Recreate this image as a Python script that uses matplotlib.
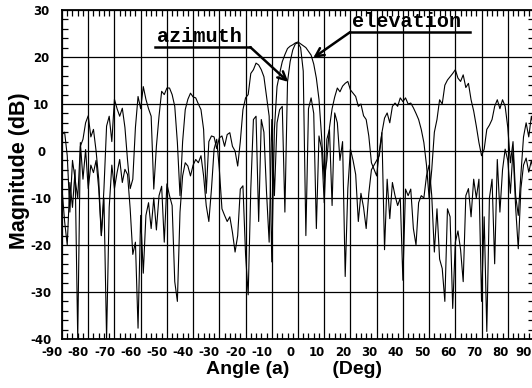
"""
Antenna pattern: azimuth and elevation cuts, magnitude (dB) against angle
"""
import numpy as np
import matplotlib.pyplot as plt
import matplotlib.transforms as mtransforms

# angles, one reading per degree
angle = np.arange(-90, 91)

# elevation cut (broad main beam)
elevation = [
    3.5, 4.0, -1.0, -13.0, -2.0, -6.0, -10.0, 1.0, 2.5, 6.0,          # -90..-81
    7.5, 3.0, 4.6, 0.0, -6.0, -18.0, -8.0, 5.3, 7.4, 2.0,             # -80..-71
    11.0, 9.0, 7.4, 9.1, 5.0, -2.0, -8.0, -6.0, 5.0, 11.6,            # -70..-61
    9.0, 13.7, 11.0, 9.0, 7.4, -8.1, 1.0, 7.4, 12.7, 12.0,            # -60..-51
    13.4, 13.4, 12.0, 9.5, 1.8, -9.5, 2.0, 8.8, 11.0, 12.3,           # -50..-41
    11.5, 11.3, 10.0, 8.8, 4.6, -9.0, 2.0, 3.2, 3.0, 0.5,             # -40..-31
    2.8, 3.2, 1.0, 3.5, 3.9, 1.0, 0.0, -3.2, 2.0, 8.8,                # -30..-21
    11.3, 12.0, 16.5, 17.3, 18.7, 18.3, 17.3, 15.8, 11.6, 7.4,        # -20..-11
    -23.6, 4.6, 13.7, 16.5, 19.0, 20.5, 21.8, 22.3, 22.6, 23.0,       # -10..-1
    23.2, 22.8, 22.4, 22.0, 21.2, 20.4, 18.5, 15.5, 11.0, 3.0,        # 0..9
    -6.0, -2.0, 5.0, 9.0, 11.5, 13.4, 12.6, 13.8, 14.4, 14.8,         # 10..19
    13.0, 12.3, 11.6, 9.5, 10.0, 7.5, 6.7, 3.2, -2.5, -3.9,           # 20..29
    -5.3, 0.0, 3.9, 7.0, 8.1, 6.0, 9.5, 10.2, 9.5, 11.3,              # 30..39
    10.5, 11.3, 10.0, 10.2, 9.2, 8.0, 6.7, 4.6, 1.8, -3.0,            # 40..49
    -10.0, -4.0, 4.0, 6.7, 10.9, 10.0, 14.0, 15.1, 15.8, 16.5,        # 50..59
    17.3, 15.5, 14.8, 16.2, 13.5, 14.4, 10.9, 8.5, 5.3, 1.8,          # 60..69
    -1.0, 0.4, 4.6, 5.5, 6.7, 9.5, 10.9, 9.0, 10.9, 9.5,              # 70..79
    5.0, -2.5, 2.0, -9.5, -13.7, -5.0, 3.0, 6.0, 3.0, 7.4,            # 80..89
    5.0,                                                              # 90
]

# azimuth cut (narrow main beam, low side lobes)
azimuth = [
    -8.0, -15.0, -20.0, -6.7, -12.0, -4.0, -40.0, 1.8, -6.0, 0.3,     # -90..-81
    -8.0, -3.0, -4.6, -2.0, -8.0, -18.0, -10.0, -40.0, -12.0, -3.0,   # -80..-71
    -8.0, -4.6, -1.8, -6.7, -3.9, -5.0, -12.3, -22.0, -19.4, -37.7,   # -70..-61
    -13.7, -26.0, -13.7, -11.0, -16.5, -10.0, -16.8, -9.5, -7.5, -19.4,  # -60..-51
    -7.0, -9.5, -11.6, -27.8, -32.0, -13.0, -5.3, -2.5, -3.2, -5.3,   # -50..-41
    -3.0, -1.8, -2.5, -1.0, -5.3, -11.6, -15.0, -8.1, 0.4, 2.5,       # -40..-31
    -3.9, -12.3, -13.7, -15.0, -14.0, -17.3, -21.5, -18.0, -8.1, -7.4,  # -30..-21
    -22.0, -30.6, -8.0, 6.7, 7.4, -15.0, 6.7, 4.0, -8.8, -19.4,       # -20..-11
    6.7, -9.5, 6.0, 8.8, 9.5, -13.0, 14.7, 19.0, 21.5, 22.8,          # -10..-1
    23.0, 22.0, 17.0, -18.0, 9.0, 11.3, 8.0, -16.5, 3.2, 0.5,         # 0..9
    -11.0, 2.5, 4.6, -11.6, 8.1, 6.0, -2.0, 2.0, -26.7, -8.0,         # 10..19
    0.4, -2.0, -5.0, -15.0, -9.0, -12.0, -16.5, -9.0, -4.0, -3.0,     # 20..29
    -2.0, -1.0, 3.9, -21.0, -6.0, -14.4, -6.7, -9.5, -11.6, -10.0,    # 30..39
    -27.5, -8.1, -9.5, -8.1, -16.5, -20.0, -11.0, -9.5, -10.0, -5.3,  # 40..49
    -3.0, -9.5, -21.5, -12.3, -23.0, -25.0, -32.0, -12.3, -14.0, -33.5,  # 50..59
    -19.4, -17.0, -21.0, -27.8, -9.5, -8.0, -14.0, -6.0, -10.0, -6.0,  # 60..69
    -32.0, -14.0, -38.4, -10.0, -6.0, -24.0, -1.8, -13.0, -4.0, 0.4,  # 70..79
    -2.0, -9.0, 0.4, -12.0, -20.8, -8.0, -3.0, -1.5, -4.5, -2.0,      # 80..89
    -5.0,                                                             # 90
]

x_ticks = np.arange(-90, 91, 10)
y_ticks = np.arange(-40, 31, 10)

plt.rcParams["font.family"] = ["Liberation Sans", "DejaVu Sans"]
plt.rcParams["axes.unicode_minus"] = False

W, H = 532, 388
fig = plt.figure(figsize=(W / 100, H / 100), dpi=100)
# axes box in pixels: left 62, right ~534 (just past the edge), top 10, bottom 339
ax = fig.add_axes([62 / W, 1 - 339 / H, (534 - 62) / W, (339 - 10) / H])

ax.plot(angle, elevation, color="black", lw=0.8)
ax.plot(angle, azimuth, color="black", lw=0.8)

ax.set_xlim(-90, 90)
ax.set_ylim(-40, 30)
ax.set_xticks(x_ticks)
ax.set_yticks(y_ticks)
ax.set_xticks(np.arange(-90, 91, 2), minor=True)
ax.set_yticks(np.arange(-40, 31, 2), minor=True)
ax.grid(True, which="major", color="black", lw=0.9)
ax.set_axisbelow(True)

ax.tick_params(which="both", direction="in", top=True, right=True)
ax.tick_params(which="major", length=0)
ax.tick_params(which="minor", length=4, width=0.9)
ax.tick_params(axis="x", which="major", pad=5, labelsize=8.5)
ax.tick_params(axis="y", which="major", pad=15, labelsize=8.5)
for lbl in ax.get_xticklabels() + ax.get_yticklabels():
    lbl.set_fontweight("bold")
    lbl.set_family("DejaVu Sans")
for lbl in ax.get_yticklabels():
    lbl.set_horizontalalignment("center")
# the scanned labels sit a little left of their grid lines
for lbl, v in zip(ax.get_xticklabels(), x_ticks):
    dx = -10 if v < 0 or v == 90 else -7
    lbl.set_transform(lbl.get_transform()
                      + mtransforms.ScaledTranslation(dx / 100, 0, fig.dpi_scale_trans))
for s in ax.spines.values():
    s.set_linewidth(1.3)

fig.text(20 / W, 1 - 171 / H, "Magnitude (dB)", rotation=90, ha="center",
         va="center", fontsize=15.5, fontweight="bold")
fig.text(294 / W, 1 - 370 / H, "Angle (a)        (Deg)", ha="center",
         va="center", fontsize=14, fontweight="bold")

# labels with underline and arrow
mono = dict(family="Liberation Mono", fontweight="bold", fontsize=14.5)
ax.text(-53.7, 23.2, "azimuth", va="baseline", ha="left", **mono)
ax.plot([-54.5, -18.2], [22.1, 22.1], color="black", lw=1.8)
ax.annotate("", xy=(-3.7, 14.7), xytext=(-18.2, 22.1),
            arrowprops=dict(arrowstyle="->,head_length=0.6,head_width=0.3",
                            lw=1.8, color="black", shrinkA=0, shrinkB=0))

ax.text(20.7, 26.4, "elevation", va="baseline", ha="left", **mono)
ax.plot([19.9, 65.7], [25.3, 25.3], color="black", lw=1.8)
ax.annotate("", xy=(5.8, 19.8), xytext=(19.9, 25.3),
            arrowprops=dict(arrowstyle="->,head_length=0.6,head_width=0.3",
                            lw=1.8, color="black", shrinkA=0, shrinkB=0))

fig.savefig("out.png", dpi=100)
